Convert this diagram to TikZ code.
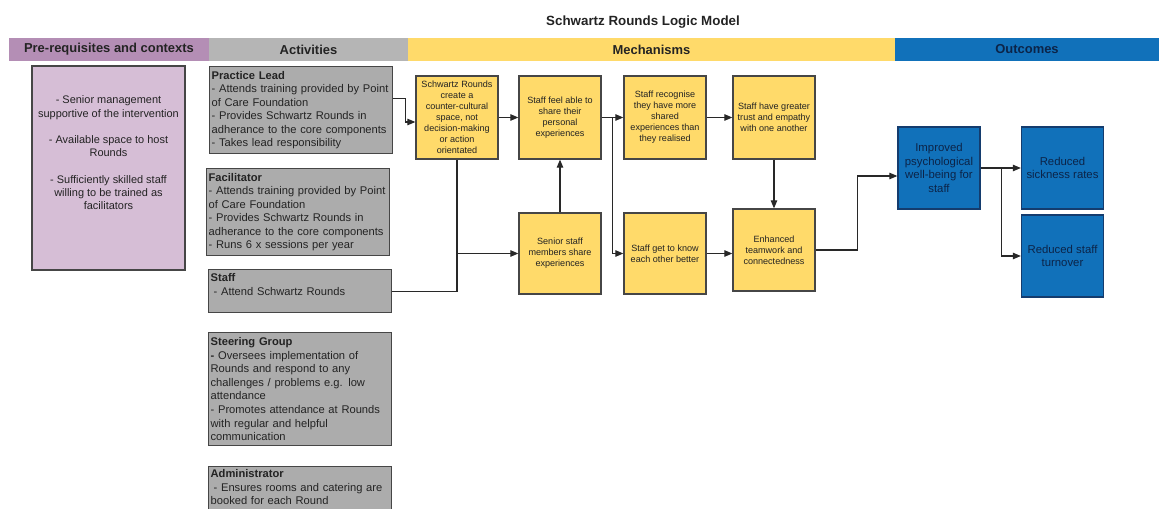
\documentclass[tikz,border=0pt]{standalone}
\usepackage{fontspec}
\setmainfont{Liberation Sans}
\usetikzlibrary{arrows.meta}
\definecolor{prehead}{RGB}{180,142,181}
\definecolor{prebox}{RGB}{214,190,214}
\definecolor{acthead}{RGB}{181,181,181}
\definecolor{actbox}{RGB}{172,172,172}
\definecolor{mechfill}{RGB}{255,218,106}
\definecolor{outfill}{RGB}{17,113,186}
\definecolor{outedge}{RGB}{20,60,110}
\definecolor{outtext}{RGB}{12,36,72}
\definecolor{edge}{RGB}{70,70,70}
\definecolor{inktext}{RGB}{35,35,35}
\definecolor{wire}{RGB}{40,40,40}
\begin{document}
\begin{tikzpicture}[x=1bp, y=-1bp,
    every node/.style={inner sep=0pt, text=inktext},
    head/.style={minimum height=23bp, font=\fontsize{13}{15}\selectfont\bfseries},
    act/.style={draw=edge, fill=actbox, line width=1.3bp, anchor=north west,
      text width=179bp, align=left, inner xsep=2bp, inner ysep=3bp,
      font=\fontsize{11.2}{13.6}\selectfont},
    mech/.style={draw=edge, fill=mechfill, line width=1.3bp, minimum width=82bp,
      minimum height=83bp, align=center, font=\fontsize{9.1}{11}\selectfont},
    outc/.style={draw=outedge, fill=outfill, line width=1.3bp, minimum width=82bp,
      minimum height=82bp, align=center, text=outtext, font=\fontsize{11.4}{13.7}\selectfont},
    conn/.style={draw=wire, line width=1.1bp, -{Triangle[length=8bp,width=6.5bp]}},
    link/.style={draw=wire, line width=1.1bp},
  ]
  \useasboundingbox (0,0) rectangle (1159,509);

  \node[font=\fontsize{13.4}{15}\selectfont\bfseries] (title) at (643,22) {Schwartz Rounds Logic Model};
  \node[head, fill=prehead, minimum width=200bp] (hpre) at (109,49.5) {Pre-requisites and contexts};
  \node[head, fill=acthead, minimum width=199bp] (hact) at (308.5,49.5) {Activities};
  \node[head, fill=mechfill, minimum width=487bp] (hmech) at (651.5,49.5) {Mechanisms};
  \node[head, fill=outfill, minimum width=264bp, text=outtext] (hout) at (1027,49.5) {Outcomes};

  \node[draw=edge, fill=prebox, line width=1.3bp, minimum width=153bp, minimum height=204bp] (pre) at (108.5,168) {};
  \node[align=center, font=\fontsize{11}{13.3}\selectfont] (pretext) at (108.5,153)
    {- Senior management\\supportive of the intervention\\[13.3bp]- Available space to host\\Rounds\\[13.3bp]- Sufficiently skilled staff\\willing to be trained as\\facilitators};

  \node[act, minimum height=87bp] (lead) at (209,66)
    {\textbf{Practice Lead}\\- Attends training provided by Point\\of Care Foundation\\- Provides Schwartz Rounds in\\adherance to the core components\\- Takes lead responsibility};
  \node[act, minimum height=87bp] (facil) at (206,168)
    {\textbf{Facilitator}\\- Attends training provided by Point\\of Care Foundation\\- Provides Schwartz Rounds in\\adherance to the core components\\- Runs 6 x sessions per year};
  \node[act, minimum height=43bp] (staff) at (208,269)
    {\textbf{Staff}\\\hspace*{3bp}- Attend Schwartz Rounds\\\mbox{}};
  \node[act, minimum height=113bp] (steer) at (208,332)
    {\textbf{Steering Group}\\\textbf{-} Oversees implementation of\\Rounds and respond to any\\challenges / problems e.g. low\\attendance\\- Promotes attendance at Rounds\\with regular and helpful\\communication};
  \node[act] (admin) at (208,466)
    {\textbf{Administrator}\\\hspace*{3bp}- Ensures rooms and catering are\\booked for each Round\\\mbox{}};

  \node[mech] (sr) at (457,117.5) {Schwartz Rounds\\create a\\counter-cultural\\space, not\\decision-making\\or action\\orientated};
  \node[mech] (feel) at (560,117.5) {Staff feel able to\\share their\\personal\\experiences};
  \node[mech] (recog) at (665,117.5) {Staff recognise\\they have more\\shared\\experiences than\\they realised};
  \node[mech] (trust) at (774,117.5) {Staff have greater\\trust and empathy\\with one another};
  \node[mech, minimum height=81bp] (senior) at (560,253.5) {Senior staff\\members share\\experiences};
  \node[mech, minimum height=81bp] (know) at (665,253.5) {Staff get to know\\each other better};
  \node[mech, minimum height=82bp] (team) at (774,250) {Enhanced\\teamwork and\\connectedness};

  \node[outc] (well) at (939,168) {Improved\\psychological\\well-being for\\staff};
  \node[outc] (sick) at (1062.5,168) {Reduced\\sickness rates};
  \node[outc] (turn) at (1062.5,256) {Reduced staff\\turnover};

  \draw[conn] ([yshift=11.5bp]lead.east) -- ++(12,0) |- ([yshift=-4.5bp]sr.west);
  \draw[conn] (sr) -- (feel);
  \draw[conn] (feel) -- (recog);
  \draw[conn] (recog) -- (trust);
  \draw[conn] (feel.east) -- ++(11,0) |- (know.west);
  \draw[conn] (senior) -- (feel);
  \draw[conn] (trust) -- (team);
  \draw[conn] (know.east) -- (know.east -| team.west);
  \draw[conn] (sr.south) |- (senior.west);
  \draw[link] (staff.east) -- (sr.south |- staff.east) -- (sr.south |- senior.west);
  \draw[conn] (team.east) -- ++(42,0) |- ([yshift=-8bp]well.west);
  \draw[conn] (well) -- (sick);
  \draw[conn] (well.east) -- ++(21,0) |- (turn.west);
\end{tikzpicture}
\end{document}
